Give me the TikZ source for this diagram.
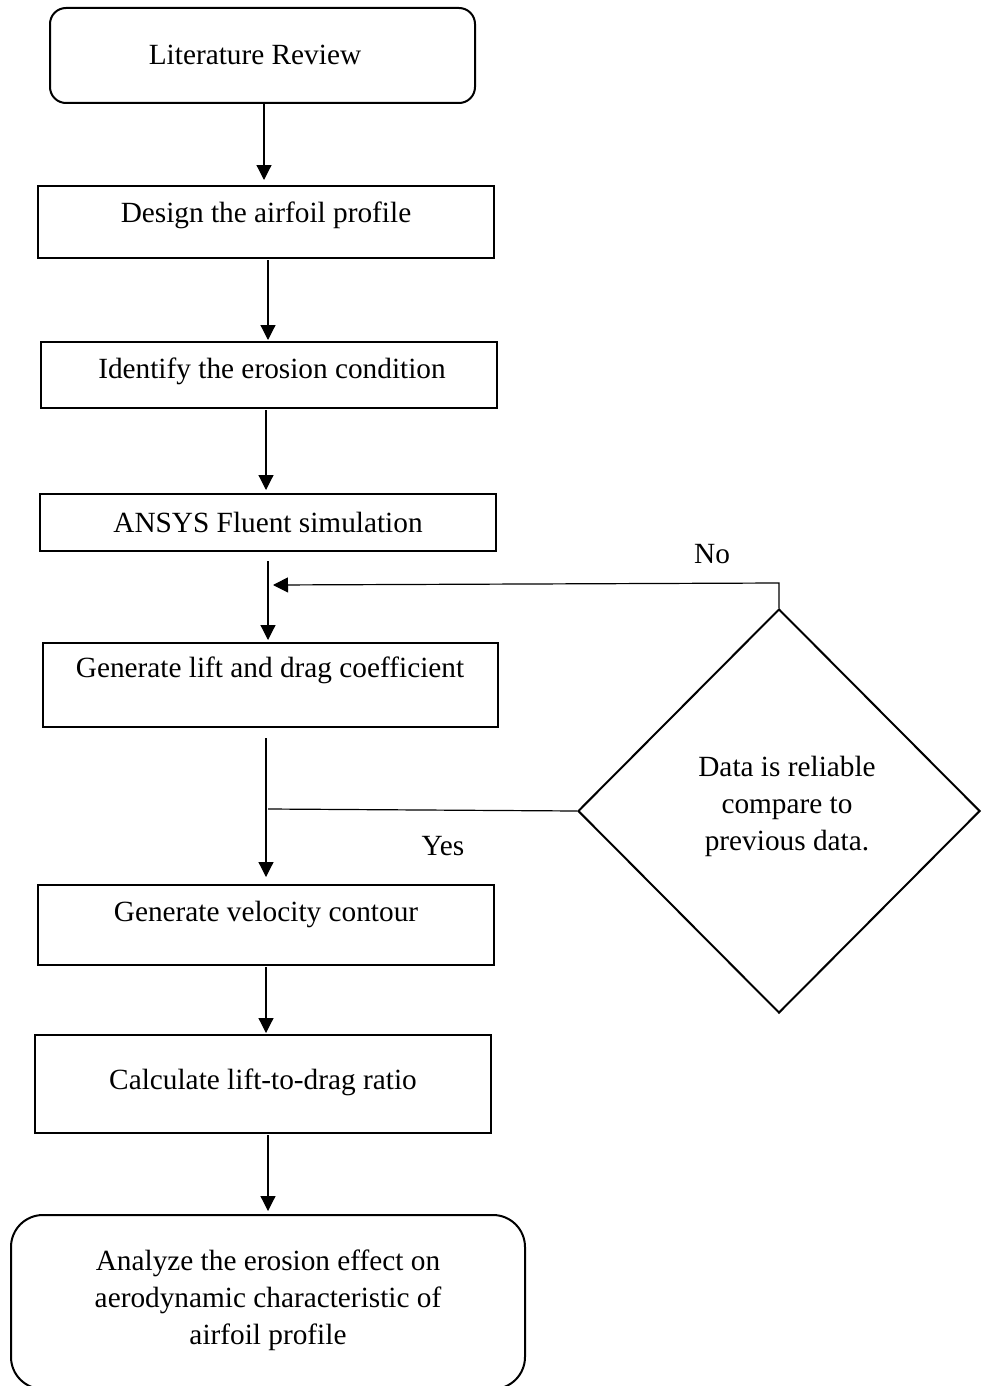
\documentclass[tikz,border=0pt]{standalone}
\usepackage{fontspec}
\setmainfont{Liberation Serif}
\usetikzlibrary{shapes.geometric,arrows.meta}
\begin{document}
\begin{tikzpicture}[x=1pt,y=-1pt,
  every node/.style={font=\fontsize{29.3}{37}\selectfont},
  box/.style={draw, line width=1.2pt, rectangle, inner sep=0pt},
  rbox/.style={draw, line width=2pt, rectangle, rounded corners=#1, inner sep=0pt},
  txt/.style={inner sep=0pt, align=center},
  dec/.style={draw, line width=2pt, diamond, inner sep=0pt},
  conn/.style={line width=1.2pt},
  arr/.style={line width=1.2pt, -{Triangle[length=15pt,width=15pt]}}]
\useasboundingbox (0,0) rectangle (988,1386);
\clip (0,0) rectangle (988,1386);

% boxes
\node[rbox=16pt, minimum width=425pt, minimum height=95pt] (b1) at (262.5,55.5) {};
\node[txt] (t1) at (255,55) {Literature Review};

\node[box, minimum width=456pt, minimum height=72pt] (b2) at (266,222) {};
\node[txt] (t2) at (266,215) {Design the airfoil profile};

\node[box, minimum width=456pt, minimum height=66pt] (b3) at (269,375) {};
\node[txt] (t3) at (272,371) {Identify the erosion condition};

\node[box, minimum width=456pt, minimum height=57pt] (b4) at (268,522.5) {};
\node[txt] (t4) at (268,522) {ANSYS Fluent simulation};

\node[box, minimum width=455pt, minimum height=84pt] (b5) at (270.5,685) {};
\node[txt] (t5) at (270,670) {Generate lift and drag coefficient};

\node[box, minimum width=456pt, minimum height=80pt] (b6) at (266,925) {};
\node[txt] (t6) at (266,914) {Generate velocity contour};

\node[box, minimum width=456pt, minimum height=98pt] (b7) at (263,1084) {};
\node[txt] (t7) at (263,1082) {Calculate lift-to-drag ratio};

\node[rbox=32pt, minimum width=514pt, minimum height=174pt] (b8) at (268,1302) {};
\node[txt] (t8) at (268,1300) {Analyze the erosion effect on\\aerodynamic characteristic of\\airfoil profile};

% decision
\node[dec, minimum width=402pt, minimum height=404pt] (d) at (779,811) {};
\node[txt] (td) at (787,806) {Data is reliable\\compare to\\previous data.};

% labels
\node[txt] (no) at (712,554) {No};
\node[txt] (yes) at (443,846) {Yes};

% connectors
\draw[arr] (264,0 |- b1.south) -- (264,180);
\draw[arr] (268,260) -- (268,340);
\draw[arr] (266,410) -- (266,490);
\draw[arr] (268,561) -- (268,640);
\draw[arr] (266,738) -- (266,877);
\draw[arr] (266,967) -- (266,1033);
\draw[arr] (268,1135) -- (268,1211);

\coordinate (nocorner) at (779,583);
\draw[arr] (d.north) -- (nocorner) -- (273,585);
\draw[conn] (d.west) -- (268,809);
\end{tikzpicture}
\end{document}
